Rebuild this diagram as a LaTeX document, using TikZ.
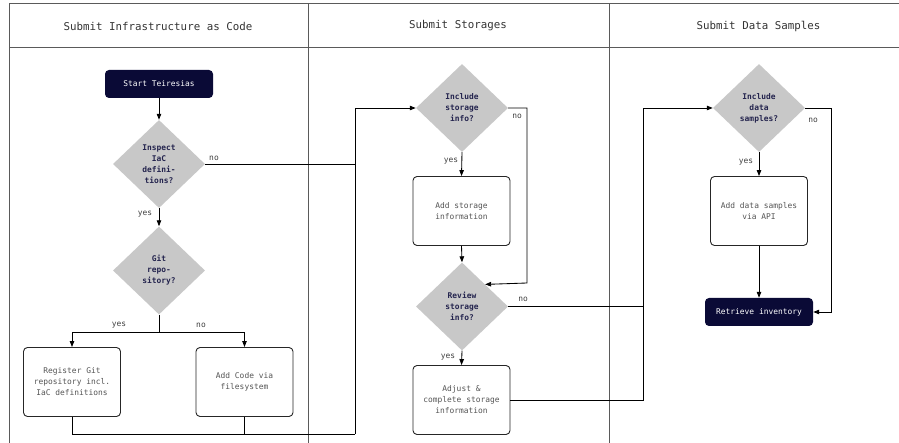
\documentclass[tikz,border=0pt]{standalone}
\usepackage{fontspec}
\setmonofont{DejaVu Sans Mono}
\usetikzlibrary{shapes.geometric,arrows.meta}
\definecolor{navy}{HTML}{0A0A36}
\definecolor{dfill}{HTML}{C8C8C8}
\definecolor{dtext}{HTML}{24244E}
\definecolor{btext}{HTML}{555555}
\definecolor{lane}{HTML}{5A5A5A}
\tikzset{
  hdr/.style={font=\ttfamily\fontsize{10.8}{13}\selectfont, text=black!80},
  darkbox/.style={rectangle, rounded corners=4pt, fill=navy, text=white, minimum width=108pt, minimum height=28pt, font=\ttfamily\fontsize{7.9}{11}\selectfont, inner sep=0pt},
  dec/.style={diamond, fill=dfill, text=dtext, minimum width=92pt, minimum height=88pt, inner sep=0pt, align=center, font=\ttfamily\bfseries\fontsize{7.9}{11}\selectfont},
  proc/.style={rectangle, rounded corners=4pt, draw=black!85, line width=0.9pt, fill=white, text=btext, minimum width=97pt, minimum height=69pt, align=center, inner sep=0pt, font=\ttfamily\fontsize{7.9}{11}\selectfont},
  lbl/.style={font=\ttfamily\fontsize{7.9}{10}\selectfont, text=black!75, inner sep=0pt},
  conn/.style={draw=black, line width=0.85pt},
  arr/.style={conn, -{Triangle[length=6pt,width=4.5pt]}},
}
\begin{document}
\begin{tikzpicture}[x=1pt,y=-1pt]
\useasboundingbox (0,0) rectangle (899,443);
\begin{scope}
\clip (0,0) rectangle (899,443);
\draw[lane, line width=1pt] (9,4) rectangle (920,460);
\draw[lane, line width=1pt] (9,48) -- (920,48);
\draw[lane, line width=1pt] (308,4) -- (308,460);
\draw[lane, line width=1pt] (609,4) -- (609,460);
\end{scope}
\node[hdr] (h1) at (158,26) {Submit Infrastructure as Code};
\node[hdr] (h2) at (458,26) {Submit Storages};
\node[hdr] (h3) at (758.5,26) {Submit Data Samples};

% lane 1
\node[darkbox] (start) at (159,84) {Start Teiresias};
\node[dec] (d1) at (159,164) {Inspect\\IaC\\defini-\\tions?};
\node[dec] (d2) at (159,270.5) {Git\\repo-\\sitory?};
\node[proc] (reg) at (72,382) {Register Git\\repository incl.\\IaC definitions};
\node[proc] (code) at (244.5,382) {Add Code via\\filesystem};

% lane 2
\node[dec] (d3) at (462,108) {Include\\storage\\info?};
\node[proc] (sto) at (461.5,211) {Add storage\\information};
\node[dec] (d4) at (462,306.5) {Review\\storage\\info?};
\node[proc] (adj) at (461.5,400) {Adjust \&\\complete storage\\information};

% lane 3
\node[dec] (d5) at (759,108) {Include\\data\\samples?};
\node[proc] (api) at (759,211) {Add data samples\\via API};
\node[darkbox] (ret) at (759,312) {Retrieve inventory};

% bend coordinates
\coordinate (b1) at (355,434);
\coordinate (b1t) at (355,108);
\coordinate (b2) at (527,283);
\coordinate (b3) at (643,400);
\coordinate (b3t) at (643,108);
\coordinate (b4) at (831,312);
\coordinate (split) at (159,332);

% connectors lane 1
\draw[arr] (start.south) -- (d1.north);
\draw[arr] (d1.south) -- (d2.north);
\node[lbl] (y1) at (145,214) {yes};
\draw[conn] (d1.east) -- (d1.east -| b1);
\node[lbl] (n1) at (214,158) {no};
\draw[conn] (d2.south) -- (split);
\draw[arr] (split) -| (reg.north);
\draw[arr] (split) -| (code.north);
\node[lbl] (y2) at (119,325) {yes};
\node[lbl] (n2) at (201,325) {no};
\draw[conn] (reg.south) |- (b1);
\draw[conn] (code.south) -- (code.south |- b1);
\draw[arr] (b1) -- (b1t) -- (d3.west);

% connectors lane 2
\draw[arr] (d3.south) -- (sto.north);
\node[lbl] (y3) at (451,161) {yes};
\draw[arr] (d3.east) -| (b2) -- (d4.north east);
\node[lbl] (n3) at (517,116) {no};
\draw[arr] (sto.south) -- (d4.north);
\draw[arr] (d4.south) -- (adj.north);
\node[lbl] (y4) at (448,357) {yes};
\draw[conn] (d4.east) -- (d4.east -| b3);
\node[lbl] (n4) at (523,299) {no};
\draw[arr] (adj.east) -- (b3) -- (b3t) -- (d5.west);

% connectors lane 3
\draw[arr] (d5.south) -- (api.north);
\node[lbl] (y5) at (746,162) {yes};
\draw[arr] (d5.east) -| (b4) -- (ret.east);
\node[lbl] (n5) at (813,120) {no};
\draw[arr] (api.south) -- (ret.north);
\end{tikzpicture}
\end{document}
